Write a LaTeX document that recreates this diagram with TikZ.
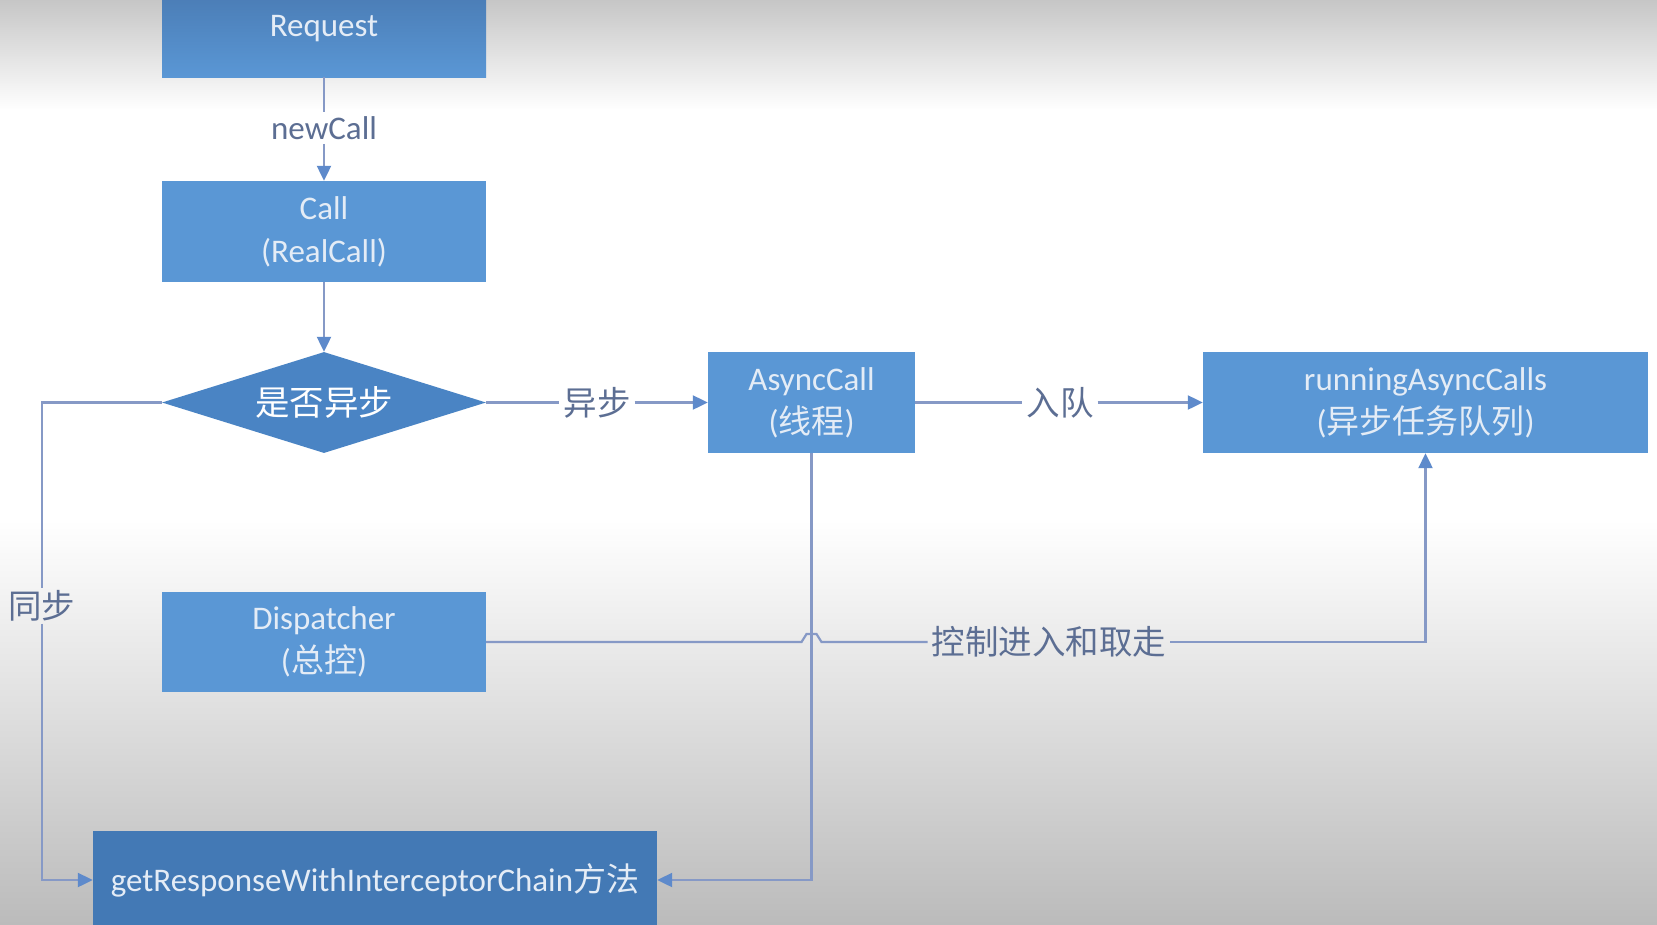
\documentclass[tikz,border=0pt]{standalone}
\usepackage{fontspec}
\setmainfont{Carlito}
\newfontfamily\cjk{Noto Sans CJK SC}
\usetikzlibrary{shapes.geometric,arrows.meta,calc}
\definecolor{boxblue}{HTML}{5A97D5}
\definecolor{boxtop}{HTML}{4878B0}
\definecolor{boxdark}{HTML}{4A84C4}
\definecolor{getblue}{HTML}{4379B5}
\definecolor{boxtext}{HTML}{E4ECF6}
\definecolor{linecol}{HTML}{8699C6}
\definecolor{tipcol}{HTML}{5E8ACB}
\definecolor{lbltext}{HTML}{5C6E93}
\definecolor{topgray}{HTML}{C6C6C6}
\definecolor{botgray}{HTML}{BBBBBB}
\begin{document}
\begin{tikzpicture}[x=1pt,y=-1pt,
  box/.style={rectangle, fill=boxblue, text=boxtext, inner sep=0pt, align=center,
              font=\fontsize{33}{43}\selectfont},
  lbl/.style={text=lbltext, inner sep=4pt, font=\fontsize{33}{36}\selectfont},
  cjklbl/.style={lbl, font=\fontsize{33.5}{36}\selectfont\cjk},
  conn/.style={draw=linecol, line width=2.2pt},
  arr/.style={conn, -{Triangle[length=15pt,width=14pt,color=tipcol]}},
]
\useasboundingbox (0,0) rectangle (1657,924);
\clip (0,0) rectangle (1657,924);
% background
\shade[top color=topgray, bottom color=white] (0,0) rectangle (1657,110);
\fill[white] (0,109) rectangle (1657,521);
\shade[top color=white, bottom color=botgray] (0,520) rectangle (1657,924);

% nodes
\node[box, top color=boxtop, bottom color=boxblue, minimum width=324pt, minimum height=97pt] (req) at (324,28.5) {Request};
\node[box, minimum width=324pt, minimum height=101pt] (call) at (324,231.5) {Call\\(RealCall)};
\node[diamond, fill=boxdark, text=white, minimum width=324pt, minimum height=101pt,
      inner sep=0pt, shape aspect=3.2, font=\fontsize{34.5}{36}\selectfont\cjk] (dec) at (324,402.5) {是否异步};
\node[box, minimum width=207pt, minimum height=101pt] (async) at (811.5,402.5) {AsyncCall\\({\cjk 线程})};
\node[box, minimum width=445pt, minimum height=101pt] (run) at (1425.5,402.5) {runningAsyncCalls\\({\cjk 异步任务队列})};
\node[box, minimum width=324pt, minimum height=100pt] (disp) at (324,642) {Dispatcher\\({\cjk 总控})};
\node[box, fill=getblue, minimum width=564pt, minimum height=98pt] (get) at (375,880) {getResponseWithInterceptorChain{\cjk 方法}};

% labels
\node[lbl] (nc) at (324,128) {newCall};
\node[cjklbl] (ya) at (597,402.5) {异步};
\node[cjklbl] (rd) at (1060,402.5) {入队};
\node[cjklbl, inner sep=2pt] (tb) at (42,606) {同步};
\node[cjklbl] (ctl) at (1049,642) {控制进入和取走};

% connectors
\draw[conn] (req.south) -- (nc.north);
\draw[arr] (nc.south) -- (call.north);
\draw[arr] (call.south) -- (dec.north);
\draw[conn] (dec.east) -- (ya.west);
\draw[arr] (ya.east) -- (async.west);
\draw[conn] (async.east) -- (rd.west);
\draw[arr] (rd.east) -- (run.west);
\draw[conn] (dec.west) -- (dec.west -| tb.north) -- (tb.north);
\draw[arr] (tb.south) |- (get.west);
\draw[arr] (async.south) |- (get.east);
\coordinate (cross) at (async.south |- disp.east);
\draw[conn] (disp.east) -- ([xshift=-10pt]cross) -- ([xshift=-5pt,yshift=8pt]cross)
  -- ([xshift=5pt,yshift=8pt]cross) -- ([xshift=10pt]cross) -- (ctl.west);
\draw[arr] (ctl.east) -| (run.south);
\end{tikzpicture}
\end{document}
